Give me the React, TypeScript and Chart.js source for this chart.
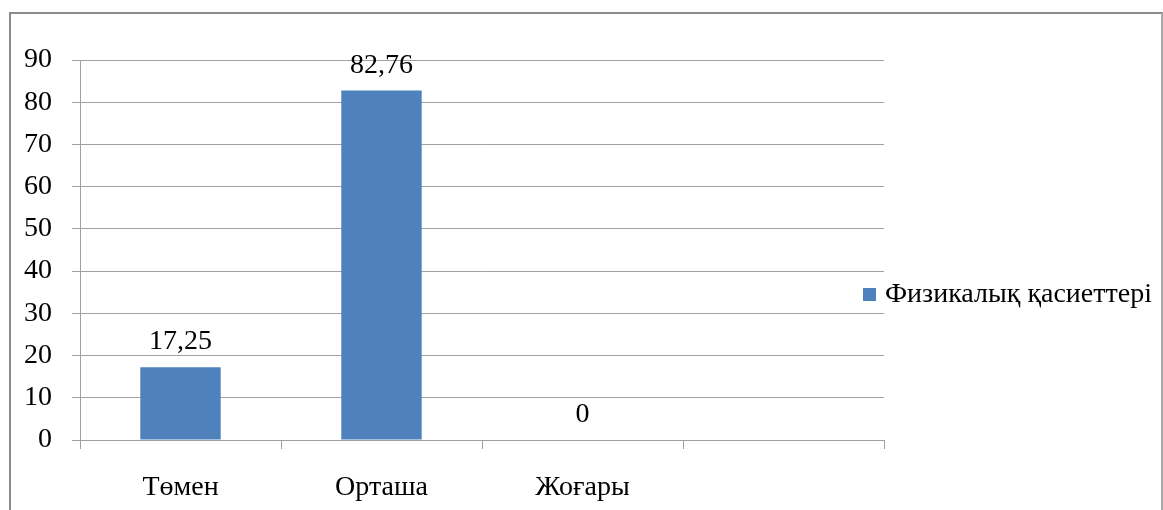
import React, { useEffect, useRef } from "react";
import { Chart, registerables } from "chart.js";

Chart.register(...registerables);

const categories = ["Төмен", "Орташа", "Жоғары", ""];
const seriesName = "Физикалық қасиеттері";
const seriesValues: (number | null)[] = [17.25, 82.76, 0, null];
const yTicks = [0, 10, 20, 30, 40, 50, 60, 70, 80, 90];

const FONT = "'Liberation Serif', 'Times New Roman', serif";
const FS = 28;
const BAR = "#4F81BD";
const GRID = "#a0a0a0";

const fmt = (v: number) => String(v).replace(".", ",");

const dataLabels = {
  id: "dataLabels",
  afterDatasetsDraw(chart: any) {
    const ctx = chart.ctx;
    ctx.save();
    ctx.font = `${FS}px ${FONT}`;
    ctx.fillStyle = "#000";
    ctx.textAlign = "center";
    ctx.textBaseline = "alphabetic";
    chart.data.datasets.forEach((ds: any, di: number) => {
      const meta = chart.getDatasetMeta(di);
      meta.data.forEach((el: any, i: number) => {
        const v = ds.data[i];
        if (v === null || v === undefined) return;
        ctx.fillText(fmt(v), el.x, el.y - 18);
      });
    });
    ctx.restore();
  },
};

const sideLegend = {
  id: "sideLegend",
  afterDraw(chart: any) {
    const ctx = chart.ctx;
    const area = chart.chartArea;
    const ds = chart.data.datasets[0];
    const x = area.right - 21;
    const y = (area.top + area.bottom) / 2 + 45;
    ctx.save();
    ctx.fillStyle = ds.backgroundColor;
    ctx.fillRect(x, y - 7, 13, 13);
    ctx.font = `${FS}px ${FONT}`;
    ctx.fillStyle = "#000";
    ctx.textAlign = "left";
    ctx.textBaseline = "middle";
    ctx.fillText(ds.label, x + 22, y);
    ctx.restore();
  },
};

export default function App() {
  const ref = useRef<HTMLCanvasElement | null>(null);
  useEffect(() => {
    if (!ref.current) return;
    const chart = new Chart(ref.current, {
      type: "bar",
      data: {
        labels: categories,
        datasets: [
          {
            label: seriesName,
            data: seriesValues,
            backgroundColor: BAR,
            barPercentage: 0.4,
            categoryPercentage: 1,
          },
        ],
      },
      options: {
        responsive: false,
        animation: false,
        devicePixelRatio: 1,
        layout: { padding: { top: 60, right: 279, left: 0, bottom: 0 } },
        plugins: {
          legend: { display: false },
          tooltip: { enabled: false },
        },
        scales: {
          x: {
            grid: {
              display: true,
              drawOnChartArea: false,
              drawTicks: true,
              tickLength: 9,
              color: GRID,
              offset: true,
            },
            border: { display: true, color: GRID },
            ticks: {
              font: { family: FONT, size: FS },
              color: "#000",
              padding: 22,
              maxRotation: 0,
              autoSkip: false,
            },
            afterFit: (s: any) => {
              s.height = 70;
            },
          },
          y: {
            min: 0,
            max: 90,
            afterBuildTicks: (s: any) => {
              s.ticks = yTicks.map((v) => ({ value: v }));
            },
            grid: { color: GRID, tickLength: 8, drawTicks: true },
            border: { display: true, color: GRID },
            ticks: {
              font: { family: FONT, size: FS },
              color: "#000",
              padding: 20,
            },
            afterFit: (s: any) => {
              s.width = 80;
            },
          },
        },
      },
      plugins: [dataLabels, sideLegend],
    });
    return () => chart.destroy();
  }, []);

  return (
    <div style={{ position: "absolute", left: 0, top: 0, width: 1163, height: 510, background: "#fff", overflow: "hidden" }}>
      <div
        style={{
          position: "absolute",
          left: 9,
          top: 12,
          width: 1150,
          height: 520,
          borderTop: "2px solid #8c8c8c",
          borderLeft: "2px solid #8c8c8c",
          borderRight: "2px solid #a8a8a8",
        }}
      />
      <canvas ref={ref} width={1163} height={510} style={{ position: "absolute", left: 0, top: 0 }} />
    </div>
  );
}
